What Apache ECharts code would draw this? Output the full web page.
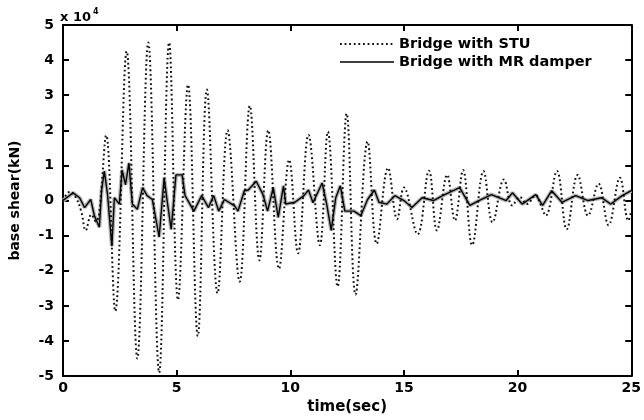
<!DOCTYPE html>
<html>
<head>
<meta charset="utf-8">
<script src="https://cdn.jsdelivr.net/npm/echarts@6/dist/echarts.min.js"></script>
<style>html,body{margin:0;padding:0;background:#fff}#c{width:644px;height:420px}</style>
</head>
<body>
<div id="c"></div>
<script>
// Bridge with STU (x 10^4 kN), read at extrema
const stuTime = [0, 0.3, 0.55, 0.8, 1.0, 1.25, 1.45, 1.6, 1.9, 2.3, 2.8, 3.27, 3.75, 4.23, 4.67, 5.06, 5.5, 5.93, 6.33, 6.8, 7.24, 7.77, 8.22, 8.64, 9.03, 9.5, 9.95, 10.34, 10.8, 11.3, 11.65, 12.08, 12.48, 12.87, 13.4, 13.8, 14.3, 14.7, 15.0, 15.6, 16.1, 16.45, 16.9, 17.24, 17.6, 18.0, 18.5, 18.9, 19.4, 19.77, 20.1, 20.4, 20.8, 21.0, 21.24, 21.73, 22.16, 22.64, 23.1, 23.56, 24.0, 24.5, 24.87, 25.0];
const stuValue = [0, 0.25, 0.1, -0.3, -0.85, -0.4, -0.6, -0.3, 1.86, -3.15, 4.25, -4.5, 4.5, -4.9, 4.5, -2.83, 3.3, -3.86, 3.16, -2.64, 2.0, -2.31, 2.7, -1.7, 2.0, -1.94, 1.16, -1.5, 1.87, -1.27, 1.96, -2.45, 2.48, -2.68, 1.68, -1.23, 0.93, -0.53, 0.37, -0.96, 0.85, -0.85, 0.73, -0.57, 0.87, -1.27, 0.84, -0.62, 0.6, -0.14, 0.1, -0.1, 0.15, -0.1, -0.43, 0.84, -0.82, 0.73, -0.43, 0.48, -0.7, 0.65, -0.57, -0.3];
// Bridge with MR damper (x 10^4 kN)
const mrTime = [0, 0.44, 0.73, 0.95, 1.22, 1.38, 1.6, 1.7, 1.82, 1.96, 2.15, 2.26, 2.48, 2.6, 2.75, 2.9, 3.05, 3.27, 3.5, 3.7, 3.93, 4.23, 4.45, 4.58, 4.76, 4.97, 5.24, 5.37, 5.76, 6.1, 6.4, 6.63, 6.85, 7.1, 7.55, 7.7, 7.98, 8.15, 8.5, 8.8, 9.0, 9.25, 9.47, 9.7, 9.8, 10.2, 10.6, 10.8, 11.0, 11.4, 11.6, 11.8, 12.0, 12.2, 12.4, 12.8, 13.1, 13.4, 13.7, 13.9, 14.25, 14.6, 15.0, 15.35, 15.8, 16.3, 16.7, 17.45, 17.9, 18.3, 18.85, 19.5, 19.77, 20.2, 20.8, 21.1, 21.5, 21.95, 22.55, 23.1, 23.7, 24.1, 24.6, 25.0];
const mrValue = [0, 0.22, 0.08, -0.2, 0.03, -0.43, -0.76, 0.3, 0.84, 0.17, -1.3, 0.08, -0.1, 0.87, 0.45, 1.07, -0.1, -0.25, 0.37, 0.14, 0.03, -1.04, 0.65, 0, -0.82, 0.73, 0.73, 0.14, -0.3, 0.14, -0.2, 0.14, -0.3, 0.03, -0.15, -0.3, 0.28, 0.3, 0.55, 0.17, -0.3, 0.37, -0.48, 0.42, -0.1, -0.05, 0.14, 0.3, -0.06, 0.5, -0.1, -0.85, 0.08, 0.42, -0.3, -0.3, -0.43, 0.03, 0.3, -0.05, -0.1, 0.14, 0, -0.2, 0.08, 0, 0.14, 0.37, -0.14, 0, 0.17, 0, 0.22, -0.1, 0.17, -0.14, 0.28, -0.05, 0.14, 0, 0.08, -0.1, 0.14, 0.28];
const xTicks = [0, 5, 10, 15, 20, 25];
const yTicks = [-5, -4, -3, -2, -1, 0, 1, 2, 3, 4, 5];
const legendNames = ['Bridge with STU', 'Bridge with MR damper'];

const FONT = '"DejaVu Sans", sans-serif';
const stuData = stuTime.map((t, i) => [t, stuValue[i]]);
const mrData = mrTime.map((t, i) => [t, mrValue[i]]);
const STU_DASH = [1.8, 2.8];

const chart = echarts.init(document.getElementById('c'), null, {renderer: 'canvas'});
const axisCommon = {
  axisLine: {show: true, onZero: false, lineStyle: {color: '#000', width: 2}},
  axisTick: {show: true, inside: true, length: 6, lineStyle: {color: '#000', width: 2}},
  splitLine: {show: false}
};
const labelStyle = {fontFamily: FONT, fontWeight: 'bold', fontSize: 14, color: '#000'};
chart.setOption({
  animation: false,
  backgroundColor: '#fff',
  grid: {left: 60, right: 11, top: 25, bottom: 39, containLabel: false},
  graphic: [
    {
      type: 'text', left: 60, top: 8,
      style: {
        text: '{a|x 10}{b|4}',
        rich: {
          a: {fontFamily: FONT, fontWeight: 'bold', fontSize: 13, fill: '#000', verticalAlign: 'bottom'},
          b: {fontFamily: FONT, fontWeight: 'bold', fontSize: 8, fill: '#000', verticalAlign: 'top', padding: [0, 0, 8, 2]}
        }
      }
    },
    {type: 'line', shape: {x1: 340, y1: 44, x2: 394, y2: 44}, style: {stroke: '#111', lineWidth: 1.8, lineDash: STU_DASH}},
    {type: 'line', shape: {x1: 340, y1: 62, x2: 394, y2: 62}, style: {stroke: '#000', lineWidth: 1.6}},
    {type: 'text', x: 399, y: 44, style: {text: legendNames[0], fontFamily: FONT, fontWeight: 'bold', fontSize: 14.5, fill: '#000', verticalAlign: 'middle'}},
    {type: 'text', x: 399, y: 62, style: {text: legendNames[1], fontFamily: FONT, fontWeight: 'bold', fontSize: 14.5, fill: '#000', verticalAlign: 'middle'}}
  ],
  xAxis: [
    Object.assign({}, axisCommon, {
      type: 'value', min: 0, max: 25, interval: 5, position: 'bottom',
      name: 'time(sec)', nameLocation: 'middle', nameGap: 19,
      nameTextStyle: Object.assign({}, labelStyle, {fontSize: 15}),
      axisLabel: Object.assign({}, labelStyle, {margin: 5,
        formatter: v => xTicks.includes(v) ? String(v) : ''})
    }),
    Object.assign({}, axisCommon, {
      type: 'value', min: 0, max: 25, interval: 5, position: 'top',
      axisLabel: {show: false}
    })
  ],
  yAxis: [
    Object.assign({}, axisCommon, {
      type: 'value', min: -5, max: 5, interval: 1, position: 'left',
      name: 'base shear(kN)', nameLocation: 'middle', nameGap: 41, nameRotate: 90,
      nameTextStyle: Object.assign({}, labelStyle),
      axisLabel: Object.assign({}, labelStyle, {margin: 9,
        formatter: v => yTicks.includes(v) ? String(v) : ''})
    }),
    Object.assign({}, axisCommon, {
      type: 'value', min: -5, max: 5, interval: 1, position: 'right',
      axisLabel: {show: false}
    })
  ],
  series: [
    {
      name: 'MR band', type: 'line', data: mrData, symbol: 'none', silent: true,
      lineStyle: {color: '#b4b4b4', width: 4}, z: 1
    },
    {
      name: legendNames[0], type: 'line', data: stuData, symbol: 'none', smooth: 0.4,
      lineStyle: {color: '#111', width: 2, type: STU_DASH}, z: 3
    },
    {
      name: legendNames[1], type: 'line', data: mrData, symbol: 'none',
      lineStyle: {color: '#000', width: 1.4, type: 'solid'}, z: 4
    }
  ]
});
</script>
</body>
</html>
